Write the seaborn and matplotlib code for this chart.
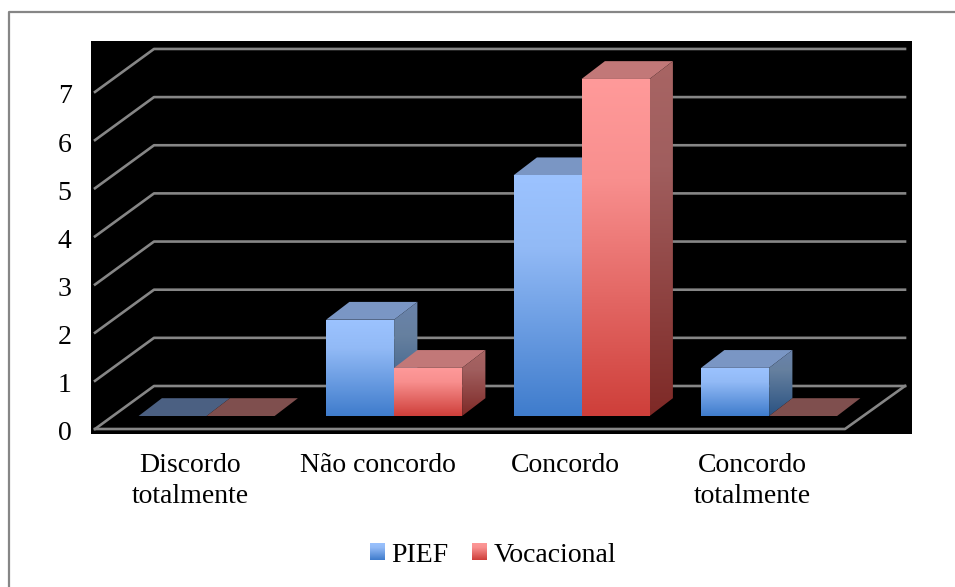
import numpy as np
import pandas as pd
import seaborn as sns
import matplotlib
matplotlib.use("Agg")
import matplotlib.pyplot as plt
from matplotlib.colors import LinearSegmentedColormap
from matplotlib.lines import Line2D
from matplotlib.patches import Polygon, Patch

categories = ["Discordo\ntotalmente", "Não concordo", "Concordo", "Concordo\ntotalmente"]
pief = [0, 2, 5, 1]
vocacional = [0, 1, 7, 0]
y_ticks = [0, 1, 2, 3, 4, 5, 6, 7]

W, H = 955, 587
# pixel layout of the black plot area
BOX = (91, 41, 912, 433.5)
X_UNIT = 187.5   # px per category
Y_UNIT = 48.15   # px per value
X0_PX = 206.6    # px of first category
BASE_PX = 416    # px of bar baseline

DX = 23.3 / X_UNIT    # depth of the bars
DY = 17.8 / Y_UNIT
FRONT_Y = -13 / Y_UNIT   # floor, front edge
BACK_Y = 30 / Y_UNIT     # floor, back edge


def px_x(p):
    return (p - X0_PX) / X_UNIT


styles = {
    "PIEF": dict(front=["#9CC3FF", "#92BAF6", "#3F7CCC"], side=["#6A83AC", "#66809F", "#2A5282"],
                 top="#7A96C4", flat="#4B6082", solid="#4F81BD"),
    "Vocacional": dict(front=["#FF9A9A", "#F88F8E", "#CE3F3A"], side=["#A86564", "#A05E5E", "#7E2926"],
                       top="#C27878", flat="#7F4F4E", solid="#C0504D"),
}


def make_cmap(cols):
    return LinearSegmentedColormap.from_list("g", [(0, cols[0]), (0.3, cols[1]), (1, cols[2])])


def grad_face(ax, verts, cols, z):
    # vertical gradient clipped to a polygon
    verts = np.array(verts)
    poly = Polygon(verts, closed=True, transform=ax.transData, fc="none", ec="none")
    ax.add_patch(poly)
    g = np.linspace(0, 1, 256).reshape(-1, 1)
    im = ax.imshow(g, cmap=make_cmap(cols), aspect="auto", zorder=z,
                   extent=(verts[:, 0].min(), verts[:, 0].max(), verts[:, 1].min(), verts[:, 1].max()),
                   origin="upper", interpolation="bilinear")
    im.set_clip_path(poly)


df = pd.DataFrame({
    "cat": categories * 2,
    "val": pief + vocacional,
    "serie": ["PIEF"] * 4 + ["Vocacional"] * 4,
})

plt.rcParams["font.family"] = ["Liberation Serif", "DejaVu Serif"]
fig = plt.figure(figsize=(W / 100, H / 100), dpi=100, facecolor="white")
ax = fig.add_axes([BOX[0] / W, 1 - BOX[3] / H, (BOX[2] - BOX[0]) / W, (BOX[3] - BOX[1]) / H])
ax.set_facecolor("black")

sns.barplot(data=df, x="cat", y="val", hue="serie", order=categories, hue_order=["PIEF", "Vocacional"],
            palette=[styles["PIEF"]["solid"], styles["Vocacional"]["solid"]],
            width=136 / X_UNIT, gap=0, dodge=True, legend=False, ax=ax, zorder=5)

xlim = (px_x(BOX[0]), px_x(BOX[2]))
ylim = ((BASE_PX - BOX[3]) / Y_UNIT, (BASE_PX - BOX[1]) / Y_UNIT)

# walls and floor lines
gx0, gx1 = px_x(95), px_x(154)
gx2, gx3 = px_x(905), px_x(845)
for v in y_ticks:
    ax.plot([gx0, gx1, gx2], [v + FRONT_Y, v + BACK_Y, v + BACK_Y], color="#868686", lw=1.9, zorder=2)
ax.plot([gx0, gx3, gx2], [FRONT_Y, FRONT_Y, BACK_Y], color="#868686", lw=1.9, zorder=2)

# 3d faces on the bars drawn by seaborn
z = 6
for cont, name in zip(ax.containers, ["PIEF", "Vocacional"]):
    st = styles[name]
    for bar in cont:
        x, w, h = bar.get_x(), bar.get_width(), bar.get_height()
        top = [(x, h), (x + w, h), (x + w + DX, h + DY), (x + DX, h + DY)]
        if h == 0:
            ax.add_patch(Polygon(top, closed=True, fc=st["flat"], ec="none", zorder=z))
            bar.set_visible(False)
            continue
        ax.add_patch(Polygon(top, closed=True, fc=st["top"], ec="none", zorder=z))
        grad_face(ax, [(x + w, 0), (x + w + DX, DY), (x + w + DX, h + DY), (x + w, h)], st["side"], z)
        grad_face(ax, [(x, 0), (x + w, 0), (x + w, h), (x, h)], st["front"], z + 0.5)
    z += 1

ax.set_xlim(xlim)
ax.set_ylim(ylim)

# tick labels sit on the front edge of the chart
ax.set_yticks([v + FRONT_Y - 2 / Y_UNIT for v in y_ticks])
ax.set_yticklabels(y_ticks)
ax.set_xticks([i + px_x(190) for i in range(len(categories))])
ax.set_xticklabels(categories, linespacing=1.3)
ax.tick_params(axis="both", length=0, labelsize=20, colors="black")
ax.tick_params(axis="x", pad=14)
ax.tick_params(axis="y", pad=14)
ax.set_xlabel("")
ax.set_ylabel("")
for s in ax.spines.values():
    s.set_visible(False)

handles = [Patch(fc=styles[k]["solid"]) for k in ["PIEF", "Vocacional"]]
leg = fig.legend(handles, ["PIEF", "Vocacional"], ncol=2, frameon=False, fontsize=20,
                 loc="center", bbox_to_anchor=(493 / W, 1 - 555 / H), handlelength=0.54, handleheight=0.58,
                 handletextpad=0.22, columnspacing=0.86)

# gradient on the legend squares
fig.canvas.draw()
for p, k in zip(leg.get_patches(), ["PIEF", "Vocacional"]):
    bb = p.get_window_extent().transformed(fig.transFigure.inverted())
    lax = fig.add_axes([bb.x0, bb.y0, bb.width, bb.height], zorder=20)
    lax.imshow(np.linspace(0, 1, 64).reshape(-1, 1), cmap=make_cmap(styles[k]["front"]), aspect="auto")
    lax.axis("off")

# outer frame, only top and left are visible
fig.add_artist(Line2D([8.5 / W, 8.5 / W, 1], [0, 1 - 11.5 / H, 1 - 11.5 / H], transform=fig.transFigure,
                      color="#868686", lw=1.6))

fig.savefig("out.png", dpi=100)
